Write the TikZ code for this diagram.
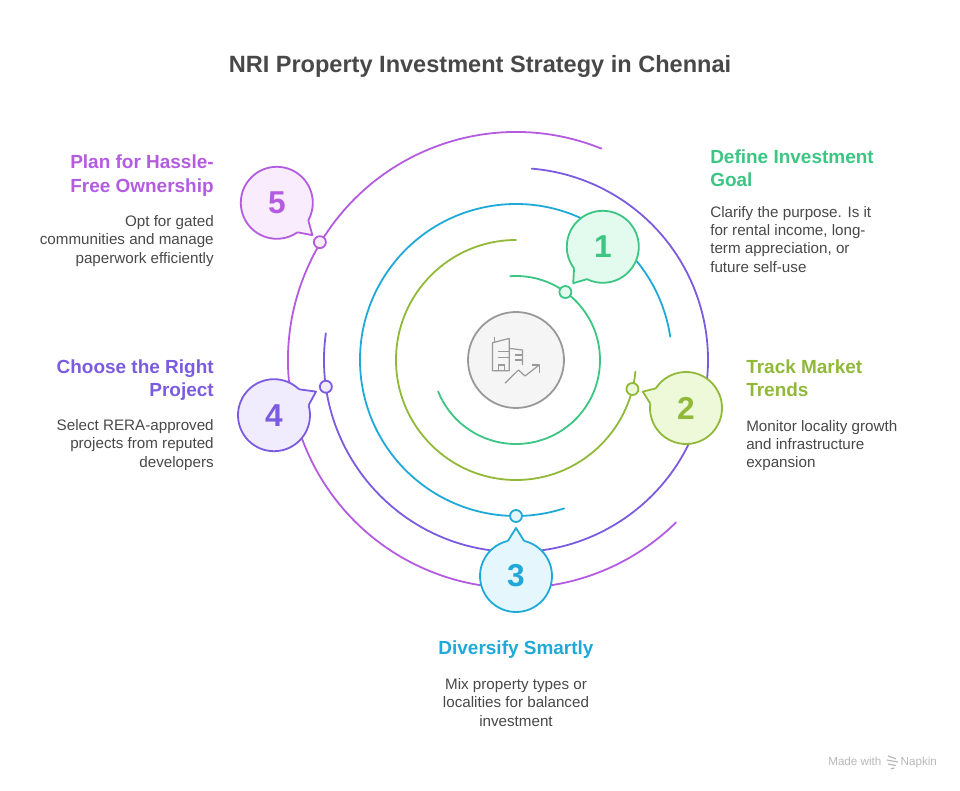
\documentclass[tikz,border=0pt]{standalone}
\usepackage{fontspec}
\setmainfont{Liberation Sans}
\definecolor{cgreen}{HTML}{3CC583}
\definecolor{colive}{HTML}{90B93A}
\definecolor{cblue}{HTML}{1FA9D8}
\definecolor{cviolet}{HTML}{7B5CE0}
\definecolor{cmauve}{HTML}{B45CE0}
\definecolor{pgreen}{HTML}{E2FBEE}
\definecolor{polive}{HTML}{EEF9DA}
\definecolor{pblue}{HTML}{E5F7FD}
\definecolor{pviolet}{HTML}{F0ECFD}
\definecolor{pmauve}{HTML}{F8ECFD}
\definecolor{ctext}{HTML}{484848}
\begin{document}
\begin{tikzpicture}
\tikzset{anneau/.style={line width=0.045cm, line cap=round}}
\tikzset{bulle/.style={draw, circle, minimum size=1.8cm, inner sep=0pt, outer sep=0pt, line width=0.045cm}}
\tikzset{chiffre/.style={font=\bfseries\fontsize{22.5}{24}\selectfont}}
\tikzset{queue/.style={line width=0.045cm, line join=round}}
\tikzset{point/.style={draw, circle, minimum size=0.3cm, inner sep=0pt, line width=0.045cm}}
\tikzset{titre/.style={font=\bfseries\fontsize{13.5}{17}\selectfont, inner sep=0pt}}
\tikzset{corps/.style={font=\fontsize{10.8}{13}\selectfont, text=ctext, inner sep=0pt}}
\useasboundingbox (-12.9, -10.75) rectangle (11.1, 9);
\node[font=\bfseries\fontsize{16.75}{21}\selectfont, text=ctext, inner sep=0pt] (TITRE) at (-0.9, 7.33) {NRI Property Investment Strategy in Chennai};
% anneaux
\draw[anneau, cmauve] (68:5.7) arc[start angle=68, end angle=314.6, radius=5.7];
\draw[anneau, cviolet] (172:4.8) arc[start angle=172, end angle=445.3, radius=4.8];
\draw[anneau, cblue] (8.6:3.9) arc[start angle=8.6, end angle=288, radius=3.9];
\draw[anneau, colive] (90:3) arc[start angle=90, end angle=354.4, radius=3];
\draw[anneau, cgreen] (94:2.1) arc[start angle=94, end angle=-158, radius=2.1];
% centre
\node[draw=black!40, fill=black!4, circle, minimum size=2.4cm, line width=0.045cm] (CENTRE) at (0, 0) {};
\draw[black!40, line width=0.03cm, line join=round] (-0.59, -0.27) -- (-0.59, 0.43) -- (-0.17, 0.54) -- (-0.17, -0.27) -- cycle;
\draw[black!40, line width=0.03cm] (-0.54, 0.44) -- (-0.54, 0.58);
\draw[black!40, line width=0.03cm] (-0.44, -0.27) -- (-0.44, -0.125) -- (-0.29, -0.125) -- (-0.29, -0.27);
\draw[black!40, line width=0.03cm] (-0.44, 0.21) -- (-0.17, 0.21);
\draw[black!40, line width=0.03cm] (-0.44, 0.06) -- (-0.17, 0.06);
\draw[black!40, line width=0.03cm] (-0.17, 0.29) -- (0.16, 0.25) -- (0.16, -0.125);
\draw[black!40, line width=0.03cm] (-0.03, 0.125) -- (0.16, 0.125);
\draw[black!40, line width=0.03cm] (-0.03, 0) -- (0.16, 0);
\draw[black!40, line width=0.03cm, line join=round] (-0.275, -0.58) -- (0.06, -0.25) -- (0.225, -0.40) -- (0.58, -0.125);
\draw[black!40, line width=0.03cm, line join=round] (0.39, -0.125) -- (0.58, -0.125) -- (0.58, -0.33);
% points
\node[point, draw=cgreen, fill=pgreen] (P1) at (54:2.1) {};
\node[point, draw=colive, fill=polive] (P2) at (-14:3) {};
\node[point, draw=cblue, fill=pblue] (P3) at (-90:3.9) {};
\node[point, draw=cviolet, fill=pviolet] (P4) at (188:4.8) {};
\node[point, draw=cmauve, fill=pmauve] (P5) at (149:5.72) {};
% bulles
\node[bulle, draw=cgreen, fill=pgreen] (B1) at (2.17, 2.83) {};
\coordinate (Q1) at (1.43, 1.92);
\fill[pgreen] (B1.center) -- (B1.217) -- (Q1) -- (B1.244) -- cycle;
\draw[queue, cgreen] (B1.217) -- (Q1) -- (B1.244);
\node[chiffre, text=cgreen] (N1) at (B1) {1};
\node[bulle, draw=colive, fill=polive] (B2) at (4.25, -1.2) {};
\coordinate (Q2) at (3.17, -0.79);
\fill[polive] (B2.center) -- (B2.147) -- (Q2) -- (B2.173) -- cycle;
\draw[queue, colive] (B2.147) -- (Q2) -- (B2.173);
\node[chiffre, text=colive] (N2) at (B2) {2};
\node[bulle, draw=cblue, fill=pblue] (B3) at (0, -5.4) {};
\coordinate (Q3) at (0, -4.2);
\fill[pblue] (B3.center) -- (B3.103) -- (Q3) -- (B3.77) -- cycle;
\draw[queue, cblue] (B3.103) -- (Q3) -- (B3.77);
\node[chiffre, text=cblue] (N3) at (B3) {3};
\node[bulle, draw=cviolet, fill=pviolet] (B4) at (-6.05, -1.38) {};
\coordinate (Q4) at (-5, -0.79);
\fill[pviolet] (B4.center) -- (B4.46) -- (Q4) -- (B4.16) -- cycle;
\draw[queue, cviolet] (B4.46) -- (Q4) -- (B4.16);
\node[chiffre, text=cviolet] (N4) at (B4) {4};
\node[bulle, draw=cmauve, fill=pmauve] (B5) at (-5.98, 3.93) {};
\coordinate (Q5) at (-5.09, 3.12);
\fill[pmauve] (B5.center) -- (B5.-29) -- (Q5) -- (B5.-55) -- cycle;
\draw[queue, cmauve] (B5.-29) -- (Q5) -- (B5.-55);
\node[chiffre, text=cmauve] (N5) at (B5) {5};
% textes
\node[titre, text=cgreen, anchor=north west, align=left] (T1) at (4.85, 5.275) {Define Investment\\Goal};
\node[corps, anchor=north west, align=left] (C1) at (4.85, 3.85) {Clarify the purpose. Is it\\for rental income, long-\\term appreciation, or\\future self-use};
\node[titre, text=colive, anchor=north west, align=left] (T2) at (5.75, 0.025) {Track Market\\Trends};
\node[corps, anchor=north west, align=left] (C2) at (5.75, -1.5) {Monitor locality growth\\and infrastructure\\expansion};
\node[titre, text=cblue] (T3) at (0, -7.25) {Diversify Smartly};
\node[corps, align=center, anchor=north] (C3) at (0, -7.96) {Mix property types or\\localities for balanced\\investment};
\node[titre, text=cviolet, anchor=north east, align=right] (T4) at (-7.55, 0.025) {Choose the Right\\Project};
\node[corps, anchor=north east, align=right] (C4) at (-7.55, -1.48) {Select RERA-approved\\projects from reputed\\developers};
\node[titre, text=cmauve, anchor=north east, align=right] (T5) at (-7.55, 5.14) {Plan for Hassle-\\Free Ownership};
\node[corps, anchor=north east, align=right] (C5) at (-7.55, 3.62) {Opt for gated\\communities and manage\\paperwork efficiently};
% signature
\node[text=black!28, font=\fontsize{8.3}{9}\selectfont, anchor=base west, inner sep=0pt] (M1) at (7.8, -10.13) {Made with};
\node[text=black!28, font=\fontsize{8.3}{9}\selectfont, anchor=base east, inner sep=0pt] (M2) at (10.53, -10.13) {Napkin};
\draw[black!28, line width=0.03cm] (9.3, -9.9) -- (9.5, -9.97) (9.27, -10.0) -- (9.55, -10.05) (9.3, -10.1) -- (9.5, -10.14) (9.37, -10.22) -- (9.46, -10.2);
\end{tikzpicture}
\end{document}
